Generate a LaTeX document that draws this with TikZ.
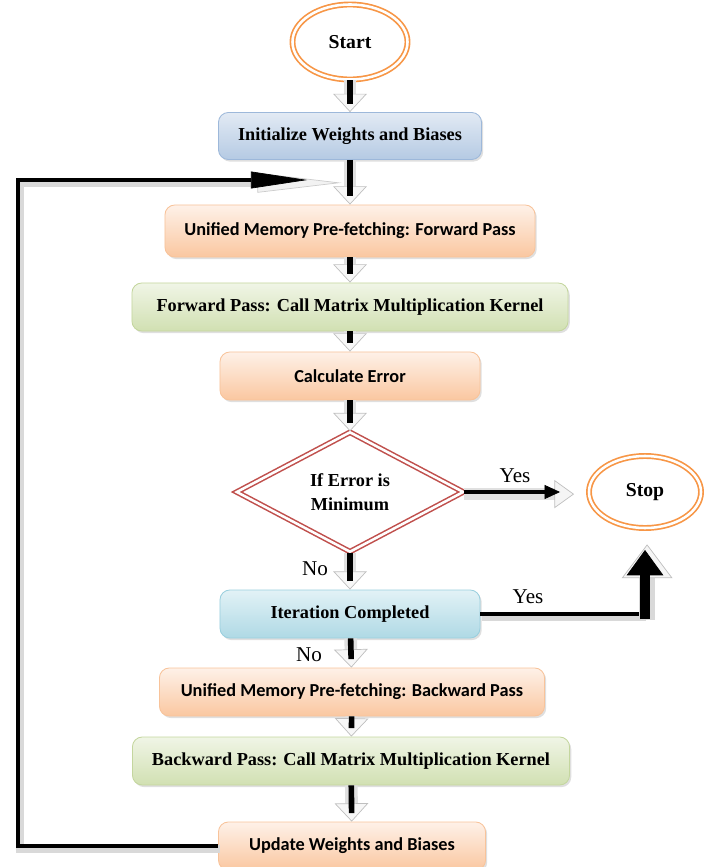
\documentclass[tikz,border=0pt]{standalone}
\usepackage{fontspec}
\setmainfont{Liberation Serif}
\newfontfamily\carl{Carlito}
\usetikzlibrary{shapes.geometric,arrows.meta,shadows}

\definecolor{blueA}{HTML}{E2EAF4}
\definecolor{blueB}{HTML}{B5CAE3}
\definecolor{blueL}{HTML}{9DB8DA}
\definecolor{orA}{HTML}{FEF1E8}
\definecolor{orB}{HTML}{FAC7A0}
\definecolor{orL}{HTML}{F8C39A}
\definecolor{grA}{HTML}{F0F5E6}
\definecolor{grB}{HTML}{D1E0B2}
\definecolor{grL}{HTML}{C4D69E}
\definecolor{cyA}{HTML}{E2F2F6}
\definecolor{cyB}{HTML}{AFD9E5}
\definecolor{cyL}{HTML}{9ACFDE}
\definecolor{ring}{HTML}{F79646}
\definecolor{rim}{HTML}{C0504D}

\begin{document}
\begin{tikzpicture}[
    x=0.025cm, y=-0.025cm,
    box/.style={rectangle, rounded corners=7pt, line width=0.6pt, minimum height=1.2cm,
        drop shadow={opacity=0.25, shadow xshift=1.2pt, shadow yshift=-1.5pt}},
    serif/.style={font=\fontsize{13}{16}\selectfont\bfseries},
    sans/.style={font=\carl\fontsize{13}{16}\selectfont\bfseries},
    bluebox/.style={box, serif, draw=blueL, top color=blueA, bottom color=blueB},
    orbox/.style={box, sans, draw=orL, top color=orA, bottom color=orB},
    grbox/.style={box, serif, draw=grL, top color=grA, bottom color=grB},
    cybox/.style={box, serif, draw=cyL, top color=cyA, bottom color=cyB},
    startstop/.style={ellipse, draw=ring, double=white, double distance=1.8pt, line width=1.2pt,
        font=\fontsize{14}{16}\selectfont\bfseries},
    choice/.style={diamond, draw=rim, double=white, double distance=1.8pt, line width=1.1pt,
        inner sep=0pt, align=center, font=\fontsize{13}{17}\selectfont\bfseries},
    lbl/.style={font=\fontsize{15}{17}\selectfont},
    flow/.style={line width=4pt, shorten >=6pt,
        preaction={draw=black!12, line width=9pt, shorten >=0pt,
            -{Triangle[width=24pt,length=13pt,color=black!25,fill=black!3,line width=0.5pt]}}},
    yesflow/.style={line width=3.5pt, shorten >=20pt, -{Triangle[width=10pt,length=11pt,line width=0.5pt]},
        preaction={draw=black!12, line width=8pt, shorten >=10pt,
            transform canvas={yshift=-1.5pt},
            -{Triangle[width=20pt,length=14pt,color=black!25,fill=black!4,line width=0.5pt]}}},
    yesline/.style={line width=3.5pt,
        preaction={draw=black!15, line width=6pt, transform canvas={xshift=1pt,yshift=-2pt}}},
    upshade/.style={draw=black!15, line width=11pt, shorten >=10pt,
        transform canvas={xshift=1.5pt,yshift=-1pt},
        -{Triangle[width=36pt,length=24pt,color=black!25,fill=black!4,line width=0.5pt]}},
    upflow/.style={draw=black, fill=black, line width=7.8pt, shorten >=15pt,
        -{Triangle[width=26pt,length=18pt,color=black,fill=black,line width=0.5pt]}},
    backline/.style={line width=3.5pt, shorten >=29pt, -{Triangle[width=12pt,length=40pt,line width=0.5pt]},
        preaction={draw=black!15, line width=6pt, shorten >=6pt,
            transform canvas={xshift=1.5pt,yshift=-2pt},
            -{Triangle[width=14pt,length=60pt,color=black!20,fill=black!5,line width=0.5pt]}}}
]
\useasboundingbox (0,0) rectangle (705,867);

\node[startstop, minimum width=2.875cm, minimum height=1.875cm] (S) at (350,42) {Start};
\node[bluebox, minimum width=6.575cm, minimum height=1.175cm] (1) at (350,136) {Initialize Weights and Biases};
\node[orbox, minimum width=9.25cm, minimum height=1.3cm] (2) at (350,231) {Unified Memory Pre-fetching: Forward Pass};
\node[grbox, minimum width=10.9cm] (3) at (350,307) {Forward Pass: Call Matrix Multiplication Kernel};
\node[orbox, minimum width=6.5cm] (4) at (350,376) {Calculate Error};
\node[choice, minimum width=5.675cm, minimum height=3cm] (D) at (350,492) {If Error is\\Minimum};
\node[startstop, minimum width=2.8cm, minimum height=1.8cm] (E) at (645,492) {Stop};
\node[cybox, minimum width=6.5cm] (7) at (350,614) {Iteration Completed};
\node[orbox, minimum width=9.625cm] (8) at (352,692) {Unified Memory Pre-fetching: Backward Pass};
\node[grbox, minimum width=10.925cm] (9) at (351,761) {Backward Pass: Call Matrix Multiplication Kernel};
\node[orbox, minimum width=6.675cm] (10) at (352,846) {Update Weights and Biases};

\node[lbl] (y1) at (515,476) {Yes};
\node[lbl] (n1) at (315,569) {No};
\node[lbl] (y2) at (528,597) {Yes};
\node[lbl] (n2) at (309,655) {No};

\coordinate (C) at (645,619);
\coordinate (L) at (18,180);
\coordinate (J) at (348,180);

\draw[flow] (S) -- (1);
\draw[flow] (1) -- (2);
\draw[flow] (2) -- (3);
\draw[flow] (3) -- (4);
\draw[flow] (4) -- (D);
\draw[flow] (D) -- (7);
\draw[flow] (7) -- (8);
\draw[flow] (8) -- (9);
\draw[flow] (9) -- (10);
\draw[yesflow] (D) -- (E);
\draw[yesline] (7.east) -- (7.east -| C);
\draw[upshade] (C) -- (E);
\draw[upflow] (C) -- (E);
\draw[backline] (10.west) -| (L) -- (J);

\end{tikzpicture}
\end{document}
